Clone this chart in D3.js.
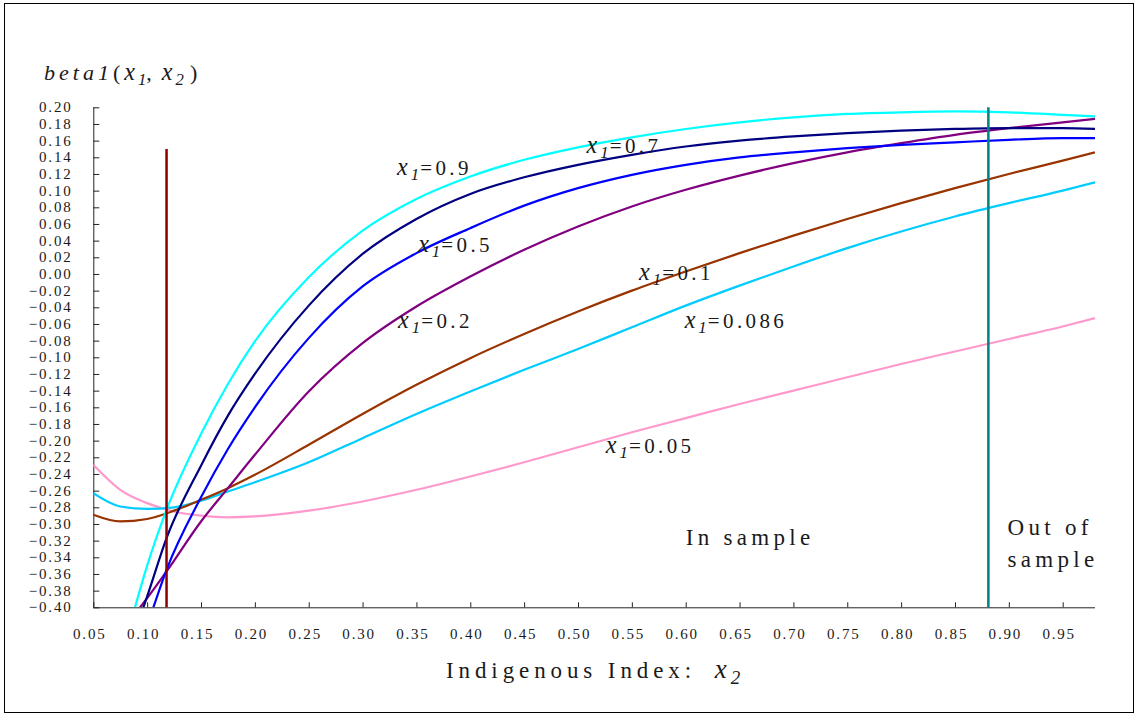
<!DOCTYPE html>
<html><head><meta charset="utf-8">
<script src="https://cdn.jsdelivr.net/npm/d3@7"></script>
<style>body{margin:0;background:#fff}svg{display:block}</style>
</head><body>
<svg id="chart" width="1137" height="715"></svg>
<script>
// ---- data ----
const seriesNames = ["0.9", "0.7", "0.5", "0.2", "0.1", "0.086", "0.05"];
const seriesColors = ["#00FFFF", "#000080", "#0000FF", "#800080", "#993300", "#00CCFF", "#FF99CC"];

const x_09 = [0.0887, 0.10, 0.118, 0.15, 0.175, 0.20, 0.25, 0.30, 0.35, 0.40, 0.45, 0.50, 0.55, 0.60, 0.65, 0.70, 0.75, 0.80, 0.85, 0.90, 0.95, 0.98];
const y_09 = [-0.40, -0.350, -0.283, -0.192, -0.132, -0.081, -0.004, 0.052, 0.090, 0.117, 0.137, 0.152, 0.164, 0.174, 0.182, 0.188, 0.192, 0.194, 0.195, 0.194, 0.191, 0.189];

const x_07 = [0.0965, 0.10, 0.118, 0.15, 0.175, 0.20, 0.25, 0.30, 0.35, 0.40, 0.45, 0.50, 0.55, 0.60, 0.65, 0.70, 0.75, 0.80, 0.85, 0.90, 0.95, 0.98];
const y_07 = [-0.40, -0.387, -0.317, -0.230, -0.170, -0.120, -0.038, 0.024, 0.066, 0.096, 0.116, 0.131, 0.143, 0.153, 0.160, 0.165, 0.169, 0.172, 0.174, 0.175, 0.175, 0.174];

const x_05 = [0.1058, 0.118, 0.15, 0.175, 0.20, 0.25, 0.30, 0.35, 0.40, 0.45, 0.50, 0.55, 0.60, 0.65, 0.70, 0.75, 0.80, 0.85, 0.90, 0.95, 0.98];
const y_05 = [-0.40, -0.355, -0.268, -0.210, -0.160, -0.077, -0.015, 0.025, 0.055, 0.082, 0.103, 0.119, 0.131, 0.140, 0.146, 0.151, 0.155, 0.158, 0.161, 0.163, 0.163];

const x_02 = [0.0934, 0.10, 0.118, 0.15, 0.175, 0.20, 0.25, 0.30, 0.35, 0.40, 0.45, 0.50, 0.55, 0.60, 0.65, 0.70, 0.75, 0.80, 0.85, 0.90, 0.95, 0.98];
const y_02 = [-0.40, -0.389, -0.357, -0.297, -0.257, -0.217, -0.141, -0.083, -0.039, -0.003, 0.029, 0.057, 0.081, 0.101, 0.118, 0.133, 0.146, 0.157, 0.167, 0.175, 0.182, 0.186];

const x_01 = [0.05, 0.075, 0.10, 0.125, 0.15, 0.175, 0.20, 0.25, 0.30, 0.35, 0.40, 0.45, 0.50, 0.55, 0.60, 0.65, 0.70, 0.75, 0.80, 0.85, 0.90, 0.95, 0.98];
const y_01 = [-0.289, -0.297, -0.294, -0.284, -0.271, -0.257, -0.241, -0.205, -0.168, -0.133, -0.101, -0.072, -0.045, -0.020, 0.003, 0.025, 0.046, 0.066, 0.085, 0.103, 0.120, 0.136, 0.146];

const x_0086 = [0.05, 0.075, 0.10, 0.125, 0.15, 0.175, 0.20, 0.25, 0.30, 0.35, 0.40, 0.45, 0.50, 0.55, 0.60, 0.65, 0.70, 0.75, 0.80, 0.85, 0.90, 0.95, 0.98];
const y_0086 = [-0.263, -0.279, -0.282, -0.280, -0.272, -0.261, -0.250, -0.226, -0.197, -0.168, -0.141, -0.115, -0.090, -0.064, -0.038, -0.014, 0.009, 0.031, 0.051, 0.069, 0.085, 0.100, 0.110];

const x_005 = [0.05, 0.075, 0.10, 0.125, 0.15, 0.175, 0.20, 0.25, 0.30, 0.35, 0.40, 0.45, 0.50, 0.55, 0.60, 0.65, 0.70, 0.75, 0.80, 0.85, 0.90, 0.95, 0.98];
const y_005 = [-0.229, -0.259, -0.275, -0.285, -0.290, -0.292, -0.291, -0.284, -0.273, -0.259, -0.243, -0.226, -0.208, -0.190, -0.173, -0.156, -0.140, -0.124, -0.108, -0.093, -0.078, -0.063, -0.053];

const xTickValues = [0.05, 0.10, 0.15, 0.20, 0.25, 0.30, 0.35, 0.40, 0.45, 0.50, 0.55, 0.60, 0.65, 0.70, 0.75, 0.80, 0.85, 0.90, 0.95];
const yTickValues = d3.range(-20, 11).map(i => i * 0.02);

// vertical marker lines: [x, yBottom, yTop]
const sampleStart = [0.118, -0.40, 0.15];
const sampleEnd = [0.881, -0.40, 0.20];

// ---- layout ----
const W = 1137, H = 715;
const plot = {left: 93.3, right: 1095, top: 107.3, bottom: 607.3};
const xScale = d3.scaleLinear().domain([0.05, 0.98]).range([plot.left, plot.right]);
const yScale = d3.scaleLinear().domain([-0.40, 0.20]).range([plot.bottom, plot.top]);

const SERIF = "'Liberation Serif', 'DejaVu Serif', serif";
const INK = "#1a1a1a";

const svg = d3.select("#chart");
svg.append("rect").attr("width", W).attr("height", H).attr("fill", "#fff");
svg.append("rect").attr("x", 4.5).attr("y", 3.5).attr("width", 1129).attr("height", 709)
  .attr("fill", "none").attr("stroke", "#000").attr("stroke-width", 1);

svg.append("clipPath").attr("id", "clip").append("rect")
  .attr("x", plot.left).attr("y", plot.top - 2).attr("width", plot.right - plot.left).attr("height", plot.bottom - plot.top + 2);

// axes
const yAxis = d3.axisRight(yScale).tickValues(yTickValues).tickSize(6).tickFormat("");
const gy = svg.append("g").attr("transform", `translate(${plot.left},0)`).call(yAxis);
gy.select(".domain").attr("d", `M0.5,${plot.top}V${plot.bottom}`).attr("stroke", "#222");
gy.selectAll(".tick line").attr("stroke", "#222");

const xAxis = d3.axisTop(xScale).tickValues(xTickValues).tickSize(5).tickFormat("");
const gx = svg.append("g").attr("transform", `translate(0,${plot.bottom})`).call(xAxis);
gx.select(".domain").attr("d", `M${plot.left},0.5H${plot.right}`).attr("stroke", "#222");
gx.selectAll(".tick line").attr("stroke", "#222");

// tick labels
const fmt = d3.format(".2f");
svg.append("g").selectAll("text").data(yTickValues).join("text")
  .attr("x", 72.5).attr("y", d => yScale(d) + 5)
  .attr("text-anchor", "end").attr("font-family", SERIF).attr("font-size", 15)
  .attr("letter-spacing", 1.8).attr("fill", INK)
  .text(d => fmt(Math.abs(d) < 1e-9 ? 0 : d).replace("-", "\u2212"));

svg.append("g").selectAll("text").data(xTickValues).join("text")
  .attr("x", d => xScale(d) - 3.5).attr("y", 639)
  .attr("text-anchor", "middle").attr("font-family", SERIF).attr("font-size", 15)
  .attr("letter-spacing", 1.8).attr("fill", INK)
  .text(d => fmt(d));

// curves
const seriesX = [x_09, x_07, x_05, x_02, x_01, x_0086, x_005];
const seriesY = [y_09, y_07, y_05, y_02, y_01, y_0086, y_005];
const line = d3.line().x(d => xScale(d[0])).y(d => yScale(d[1])).curve(d3.curveMonotoneX);
const gCurves = svg.append("g").attr("clip-path", "url(#clip)");
[6, 5, 4, 3, 2, 1, 0].forEach(i => {
  const pts = seriesX[i].map((xv, j) => [xv, seriesY[i][j]]);
  gCurves.append("path").attr("d", line(pts)).attr("fill", "none")
    .attr("stroke", seriesColors[i]).attr("stroke-width", 2.2).attr("stroke-linejoin", "round");
});

// vertical markers
svg.append("line").attr("x1", xScale(sampleStart[0])).attr("x2", xScale(sampleStart[0]))
  .attr("y1", yScale(sampleStart[1])).attr("y2", yScale(sampleStart[2]))
  .attr("stroke", "#8B0000").attr("stroke-width", 2.5);
svg.append("line").attr("x1", xScale(sampleEnd[0])).attr("x2", xScale(sampleEnd[0]))
  .attr("y1", yScale(sampleEnd[1])).attr("y2", yScale(sampleEnd[2]))
  .attr("stroke", "#008080").attr("stroke-width", 2.5);

// series labels: [series index, x, y] in data units
const labelAt = [[0, 0.332, 0.119], [1, 0.508, 0.145], [2, 0.3516, 0.026], [3, 0.333, -0.065],
                 [4, 0.5567, -0.007], [5, 0.599, -0.065], [6, 0.5258, -0.215]];
function xSub(sel, sub, size) {
  sel.append("tspan").attr("font-style", "italic").attr("font-size", size * 1.15).attr("letter-spacing", 3).text("x");
  sel.append("tspan").attr("font-style", "italic").attr("font-size", size * 0.8)
    .attr("dy", 5).text(sub);
}
labelAt.forEach(([i, lx, ly]) => {
  const t = svg.append("text").attr("x", xScale(lx)).attr("y", yScale(ly))
    .attr("font-family", SERIF).attr("font-size", 21).attr("fill", INK);
  xSub(t, "1", 21);
  t.append("tspan").attr("dy", -5).attr("dx", 1).attr("letter-spacing", 3.4).text("=" + seriesNames[i]);
});

// title
const title = svg.append("text").attr("x", 44).attr("y", 80).attr("font-family", SERIF)
  .attr("font-size", 22).attr("fill", INK);
title.append("tspan").attr("font-style", "italic").attr("letter-spacing", 4).text("beta1");
title.append("tspan").attr("letter-spacing", 4).text("(");
xSub(title, "1", 21);
title.append("tspan").attr("dy", -5).attr("letter-spacing", 10).text(",");
xSub(title, "2", 21);
title.append("tspan").attr("dy", -5).attr("dx", 6).text(")");

// x axis title
const xt = svg.append("text").attr("x", 446).attr("y", 678)
  .attr("font-family", SERIF).attr("font-size", 23).attr("fill", INK);
xt.append("tspan").attr("letter-spacing", 4.9).text("Indigenous Index: ");
xt.append("tspan").attr("dx", 8).attr("font-style", "italic").attr("font-size", 27).attr("letter-spacing", 4).text("x");
xt.append("tspan").attr("font-style", "italic").attr("font-size", 19).attr("dy", 6).text("2");

// region annotations
const ann = [["In sample", 0.600, -0.325], ["Out of", 0.8988, -0.313], ["sample", 0.8988, -0.352]];
svg.append("g").selectAll("text").data(ann).join("text")
  .attr("x", d => xScale(d[1])).attr("y", d => yScale(d[2]))
  .attr("font-family", SERIF).attr("font-size", 23).attr("letter-spacing", 4.3).attr("fill", INK)
  .text(d => d[0]);
</script>
</body></html>
